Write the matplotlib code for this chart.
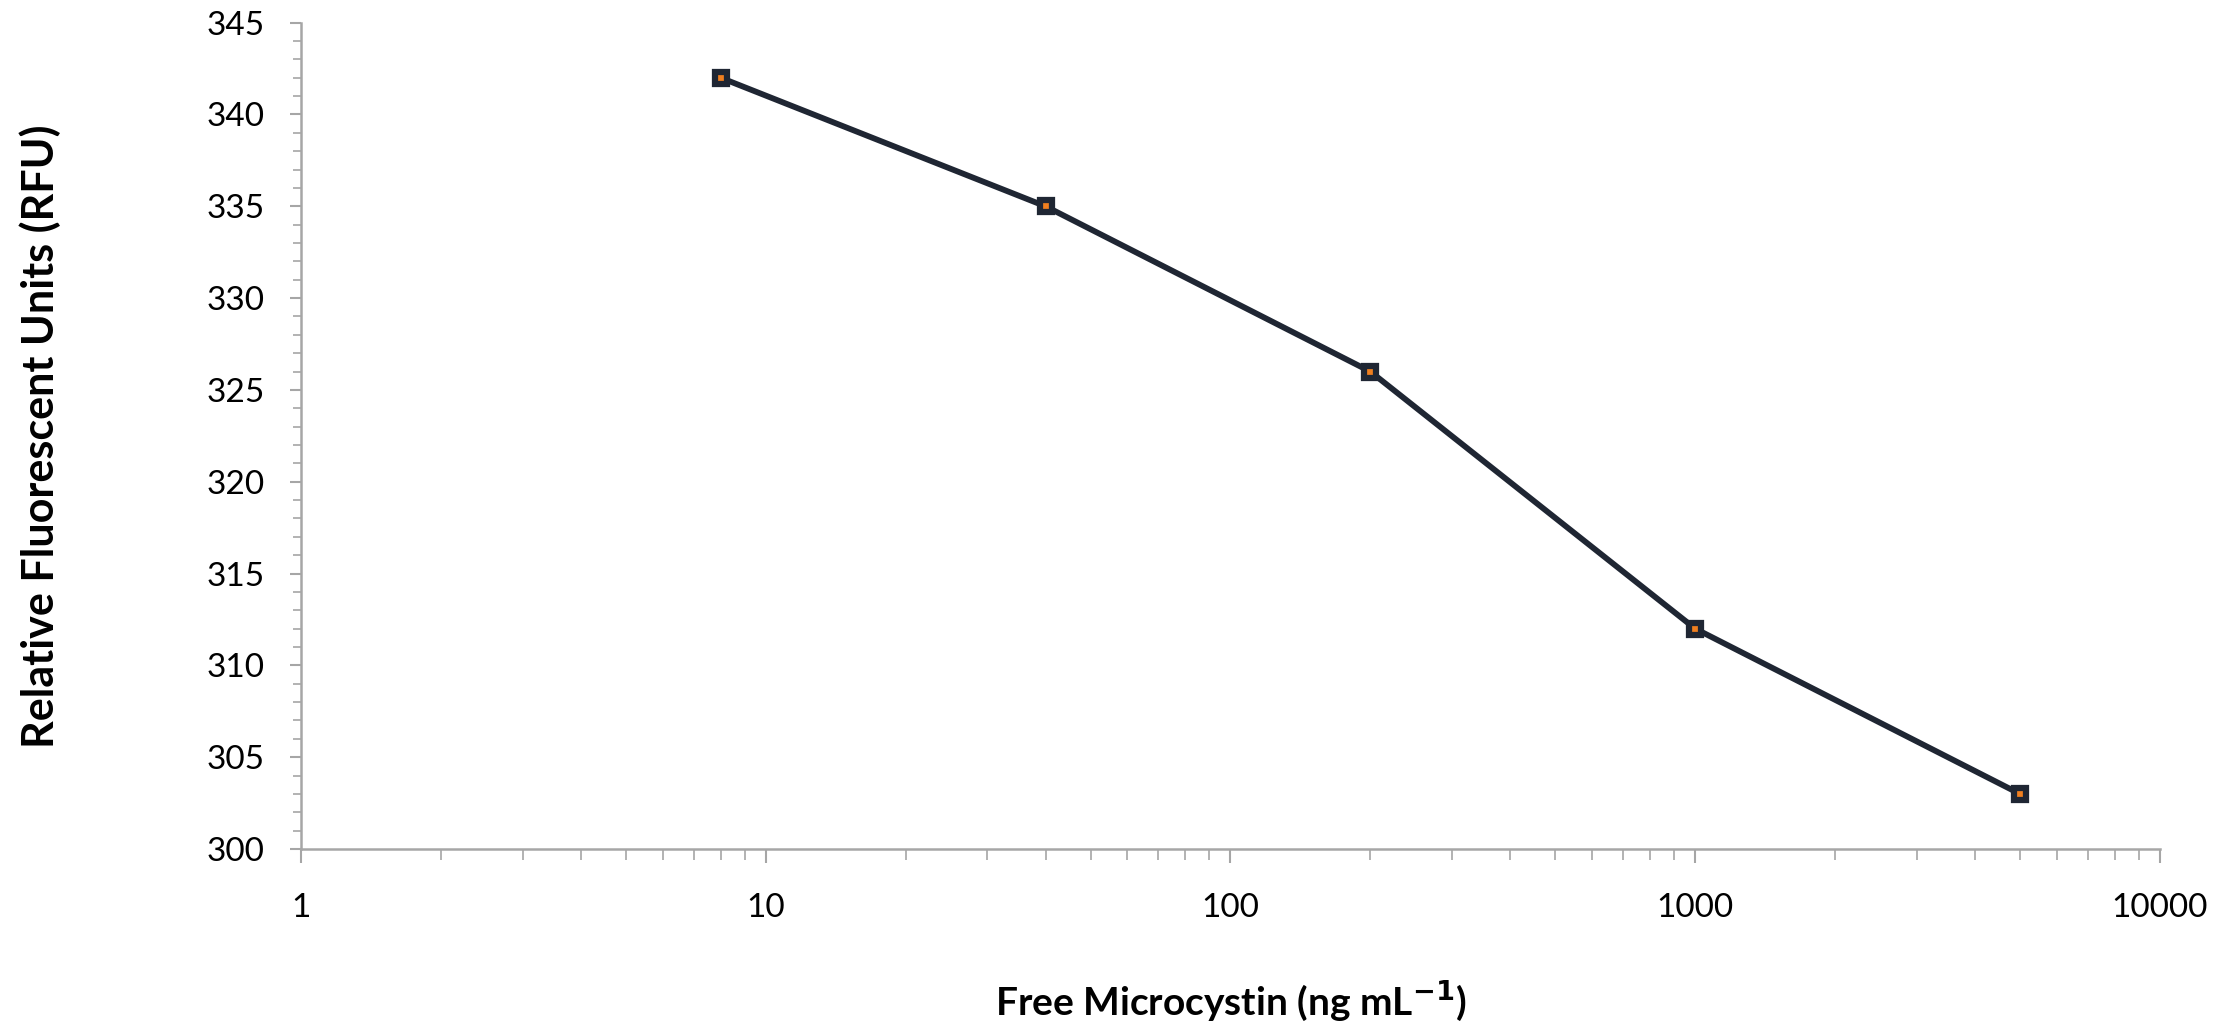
import matplotlib
matplotlib.use("Agg")
import matplotlib.pyplot as plt
from matplotlib.ticker import LogLocator, MultipleLocator, FixedLocator, FixedFormatter

concentration = [8, 40, 200, 1000, 5000]
rfu = [342, 335, 326, 312, 303]
x_ticks = [1, 10, 100, 1000, 10000]
x_tick_labels = ["1", "10", "100", "1000", "10000"]
y_ticks = [300, 305, 310, 315, 320, 325, 330, 335, 340, 345]

plt.rcParams['font.family'] = ['Lato', 'DejaVu Sans']

fig = plt.figure(figsize=(22.35, 10.26), dpi=100)
ax = fig.add_axes([0.1347, 0.1725, 0.9664 - 0.1347, 0.9779 - 0.1725])

ax.plot(concentration, rfu, color="#1f2633", linewidth=4.2, marker="s",
        markersize=8, markerfacecolor="#f07f1f", markeredgecolor="#1f2633",
        markeredgewidth=4.5, solid_joinstyle="miter", zorder=3)

ax.set_xscale("log")
ax.set_xlim(1, 10000)
ax.set_ylim(300, 345)
ax.xaxis.set_major_locator(FixedLocator(x_ticks))
ax.xaxis.set_major_formatter(FixedFormatter(x_tick_labels))
ax.xaxis.set_minor_locator(LogLocator(base=10, subs=range(2, 10)))
ax.yaxis.set_major_locator(FixedLocator(y_ticks))
ax.yaxis.set_minor_locator(MultipleLocator(1))

for s in ["top", "right"]:
    ax.spines[s].set_visible(False)
for s in ["left", "bottom"]:
    ax.spines[s].set_color("#a6a6a6")
    ax.spines[s].set_linewidth(1.8)

ax.tick_params(axis="x", which="major", length=10, width=1.5, color="#a6a6a6",
               labelsize=24, pad=22, direction="out")
ax.tick_params(axis="x", which="minor", length=8, width=1.2, color="#a6a6a6")
ax.tick_params(axis="y", which="major", length=8, width=1.5, color="#a6a6a6",
               labelsize=24, pad=18, direction="out")
ax.tick_params(axis="y", which="minor", length=6, width=1.2, color="#a6a6a6")

ax.set_xlabel("Free Microcystin (ng mL$^{\\mathbf{-1}}$)", fontsize=28, fontweight="bold", labelpad=40)
ax.set_ylabel("Relative Fluorescent Units (RFU)", fontsize=31, fontweight="bold", labelpad=105)

fig.savefig("out.png", dpi=100)
